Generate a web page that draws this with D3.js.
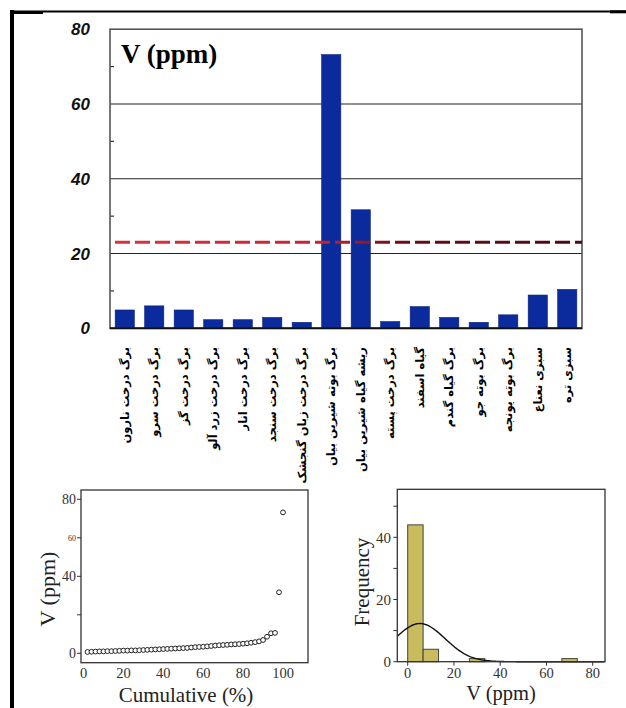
<!DOCTYPE html>
<html><head><meta charset="utf-8">
<script src="https://cdn.jsdelivr.net/npm/d3@7"></script>
<style>body{margin:0;background:#fff}svg{display:block}</style>
</head><body>
<svg id="c" width="626" height="708"></svg>
<script>
// ---------------- data ----------------
const categories = [
  "برگ درخت نارون","برگ درخت سرو","برگ درخت گز","برگ درخت زرد آلو",
  "برگ درخت انار","برگ درخت سنجد","برگ درخت زبان گنجشک","برگ بوته شیرین بیان",
  "ریشه گیاه شیرین بیان","برگ درخت پسته","گیاه اسفند","برگ گیاه گندم",
  "برگ بوته جو","برگ بوته یونجه","سبزی نعناع","سبزی تره"
];
const vValues = [4.9,6.0,4.9,2.3,2.3,2.9,1.6,73.2,31.7,1.8,5.8,2.9,1.6,3.6,8.9,10.4];
const refValue = 23;
const mainYTicks = [0,20,40,60,80];
const mainMinorTicks = [10,30,50,70];

// sorted sample values (cumulative plot)
const samples = [0.7,0.8,0.9,1.0,1.0,1.1,1.1,1.2,1.3,1.4,
                 1.4,1.5,1.5,1.6,1.7,1.8,1.9,2.0,2.1,2.2,
                 2.3,2.4,2.5,2.6,2.7,2.8,3.0,3.2,3.3,3.4,
                 3.6,3.8,4.0,4.2,4.3,4.4,4.6,4.7,4.8,5.0,
                 5.2,5.5,5.8,6.2,6.9,8.6,10.4,10.6,31.7,73.2];
const cumTicksX = [0,20,40,60,80,100];
const cumTicksY = [0,20,40,60,80];

// histogram bins
const binWidth = 20/3;
const histCounts = [44,4,0,0,1,0,0,0,0,0,1];
const histTicksX = [0,20,40,60,80];
const histTicksY = [0,10,20,30,40,50];
const histLabelsY = [0,20,40];

// ---------------- drawing ----------------
const svg = d3.select("#c");
svg.append("rect").attr("width",626).attr("height",708).attr("fill","#fff");

// page frame
svg.append("line").attr("x1",10).attr("x2",626).attr("y1",11.5).attr("y2",11.5).attr("stroke","#000").attr("stroke-width",2);
svg.append("line").attr("x1",10).attr("x2",43).attr("y1",12.5).attr("y2",12.5).attr("stroke","#000").attr("stroke-width",3);
svg.append("line").attr("x1",610).attr("x2",626).attr("y1",11.8).attr("y2",11.8).attr("stroke","#000").attr("stroke-width",3);
svg.append("line").attr("x1",12).attr("x2",12).attr("y1",10).attr("y2",708).attr("stroke","#000").attr("stroke-width",4);

// ===== main bar chart =====
const M = {l:110, r:582, t:29.2, b:328.3};
const x = d3.scaleBand().domain(categories).range([M.l, M.r]).paddingInner(0.35).paddingOuter(0.175);
const y = d3.scaleLinear().domain([0,80]).range([M.b, M.t]);
const g = svg.append("g");

// grid lines
g.selectAll("line.grid").data(mainYTicks.filter(d=>d>0 && d<80)).join("line")
  .attr("x1",M.l).attr("x2",M.r).attr("y1",d=>y(d)).attr("y2",d=>y(d))
  .attr("stroke","#222").attr("stroke-width",1.1);

// minor ticks
g.selectAll("line.minor").data(mainMinorTicks).join("line")
  .attr("x1",M.l).attr("x2",M.l+4).attr("y1",d=>y(d)).attr("y2",d=>y(d))
  .attr("stroke","#333").attr("stroke-width",1.2);

// bars
g.selectAll("rect.bar").data(vValues).join("rect")
  .attr("x",(d,i)=>x(categories[i])).attr("width",x.bandwidth())
  .attr("y",d=>y(d)).attr("height",d=>y(0)-y(d))
  .attr("fill","#0b2a9c").attr("stroke","#0a2080").attr("stroke-width",0.6);

// frame of the plot
g.append("rect").attr("x",M.l).attr("y",M.t).attr("width",M.r-M.l).attr("height",M.b-M.t)
  .attr("fill","none").attr("stroke","#555").attr("stroke-width",1.6);
g.append("line").attr("x1",M.l).attr("x2",M.r).attr("y1",M.b).attr("y2",M.b).attr("stroke","#111").attr("stroke-width",2);

// reference dashed line
const defs = svg.append("defs");
const grad = defs.append("linearGradient").attr("id","rg").attr("gradientUnits","userSpaceOnUse")
  .attr("x1",M.l).attr("x2",M.r).attr("y1",0).attr("y2",0);
grad.append("stop").attr("offset","0%").attr("stop-color","#d8343e");
grad.append("stop").attr("offset","45%").attr("stop-color","#c8222e");
grad.append("stop").attr("offset","62%").attr("stop-color","#6a0c18");
grad.append("stop").attr("offset","100%").attr("stop-color","#4a0a14");
g.append("line").attr("x1",M.l+5).attr("x2",M.r).attr("y1",y(refValue)).attr("y2",y(refValue))
  .attr("stroke","url(#rg)").attr("stroke-width",3).attr("stroke-dasharray","15,5");

// y labels
g.selectAll("text.yl").data(mainYTicks).join("text")
  .attr("x",90).attr("y",d=>y(d)).attr("dy","0.36em").attr("text-anchor","end")
  .attr("font-family","Liberation Sans, Arial, sans-serif").attr("font-style","italic")
  .attr("font-weight","bold").attr("font-size",17).attr("fill","#111").text(d=>d);

// title
g.append("text").attr("x",121).attr("y",63).attr("font-family","Liberation Serif, Times New Roman, serif")
  .attr("font-weight","bold").attr("font-size",27).attr("fill","#000").text("V (ppm)");

// x labels (rotated Persian)
g.selectAll("text.xl").data(categories).join("text")
  .attr("transform",d=>`translate(${x(d)+x.bandwidth()/2},347) rotate(-90)`)
  .attr("text-anchor","end").attr("dy","0.35em")
  .attr("font-family","DejaVu Sans, sans-serif").attr("font-weight","bold")
  .attr("font-size",11.5).attr("fill","#000").text(d=>d);

// ===== cumulative scatter =====
const C = {l:81, r:308, t:490, b:662.7};
const cx = d3.scaleLinear().domain([0,100]).range([83.5,283]);
const cy = d3.scaleLinear().domain([0,80]).range([653.3,499.3]);
const gc = svg.append("g");
gc.append("rect").attr("x",C.l).attr("y",C.t).attr("width",C.r-C.l).attr("height",C.b-C.t)
  .attr("fill","none").attr("stroke","#333").attr("stroke-width",1.3);
gc.selectAll("line.t").data(cumTicksY).join("line")
  .attr("x1",C.l-4).attr("x2",C.l).attr("y1",d=>cy(d)).attr("y2",d=>cy(d)).attr("stroke","#333");
gc.selectAll("text.yl").data(cumTicksY.filter(d=>d!==20)).join("text")
  .attr("x",76).attr("y",d=>cy(d)).attr("dy","0.35em").attr("text-anchor","end")
  .attr("font-family","Liberation Serif, serif").attr("font-size",d=>d===60?8:14).attr("fill","#333").text(d=>d);
gc.selectAll("text.xl").data(cumTicksX).join("text")
  .attr("x",d=>cx(d)).attr("y",678).attr("text-anchor","middle")
  .attr("font-family","Liberation Serif, serif").attr("font-size",14.5).attr("fill","#333").text(d=>d);
gc.append("text").attr("x",186).attr("y",702).attr("text-anchor","middle")
  .attr("font-family","Liberation Serif, serif").attr("font-size",21).attr("fill","#222").text("Cumulative (%)");
gc.append("text").attr("transform","translate(55,589) rotate(-90)").attr("text-anchor","middle")
  .attr("font-family","Liberation Serif, serif").attr("font-size",22).attr("fill","#222").text("V (ppm)");
gc.selectAll("circle").data(samples).join("circle")
  .attr("cx",(d,i)=>cx((i+1)/samples.length*100)).attr("cy",d=>cy(d)).attr("r",2.4)
  .attr("fill","#fff").attr("stroke","#222").attr("stroke-width",1);

// ===== histogram =====
const H = {l:397.3, r:605, t:489.3, b:661.7};
const hx = d3.scaleLinear().domain([0,80]).range([407.7,592.7]);
const hy = d3.scaleLinear().domain([0,50]).range([661.7,506.2]);
const gh = svg.append("g");
gh.selectAll("rect.bin").data(histCounts).join("rect")
  .attr("x",(d,i)=>hx(i*binWidth)).attr("width",(d,i)=>hx((i+1)*binWidth)-hx(i*binWidth))
  .attr("y",d=>hy(d)).attr("height",d=>hy(0)-hy(d))
  .attr("fill","#c9bc5e").attr("stroke","#444").attr("stroke-width",1)
  .attr("display",d=>d>0?null:"none");
// normal curve from sample mean/sd
const mu = d3.mean(samples), sd = d3.deviation(samples), N = samples.length;
const xs = d3.range(hx.invert(H.l), hx.invert(H.r), 0.5);
const line = d3.line().x(d=>hx(d)).y(d=>hy(N*binWidth*Math.exp(-0.5*((d-mu)/sd)**2)/(sd*Math.sqrt(2*Math.PI))));
gh.append("path").attr("d",line(xs)).attr("fill","none").attr("stroke","#111").attr("stroke-width",1.4);
gh.append("rect").attr("x",H.l).attr("y",H.t).attr("width",H.r-H.l).attr("height",H.b-H.t)
  .attr("fill","none").attr("stroke","#333").attr("stroke-width",1.3);
gh.selectAll("line.yt").data(histTicksY).join("line")
  .attr("x1",H.l-4).attr("x2",H.l).attr("y1",d=>hy(d)).attr("y2",d=>hy(d)).attr("stroke","#333");
gh.selectAll("line.xt").data(histTicksX).join("line")
  .attr("x1",d=>hx(d)).attr("x2",d=>hx(d)).attr("y1",H.b).attr("y2",H.b+4).attr("stroke","#333");
gh.selectAll("text.yl").data(histLabelsY).join("text")
  .attr("x",391).attr("y",d=>hy(d)).attr("dy","0.35em").attr("text-anchor","end")
  .attr("font-family","Liberation Serif, serif").attr("font-size",15).attr("fill","#333").text(d=>d);
gh.selectAll("text.xl").data(histTicksX).join("text")
  .attr("x",d=>hx(d)).attr("y",678).attr("text-anchor","middle")
  .attr("font-family","Liberation Serif, serif").attr("font-size",14.5).attr("fill","#333").text(d=>d);
gh.append("text").attr("x",501).attr("y",700).attr("text-anchor","middle")
  .attr("font-family","Liberation Serif, serif").attr("font-size",20.5).attr("fill","#222").text("V (ppm)");
gh.append("text").attr("transform","translate(369,582) rotate(-90)").attr("text-anchor","middle")
  .attr("font-family","Liberation Serif, serif").attr("font-size",21).attr("fill","#222").text("Frequency");
</script>
</body></html>
